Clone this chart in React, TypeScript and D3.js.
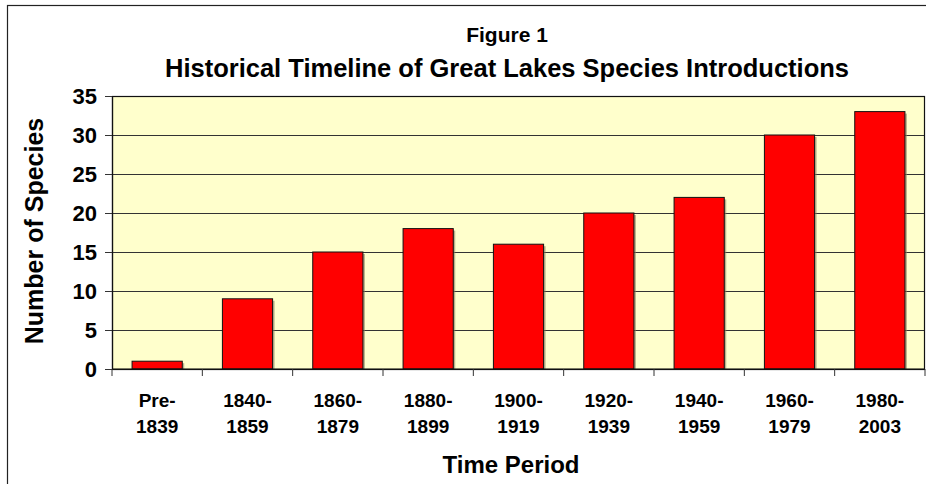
import { useEffect, useRef } from 'react'
import * as d3 from 'd3'

const periods = [
  ['Pre-', '1839'],
  ['1840-', '1859'],
  ['1860-', '1879'],
  ['1880-', '1899'],
  ['1900-', '1919'],
  ['1920-', '1939'],
  ['1940-', '1959'],
  ['1960-', '1979'],
  ['1980-', '2003'],
]
const speciesCounts = [1, 9, 15, 18, 16, 20, 22, 30, 33]
const yTicks = [0, 5, 10, 15, 20, 25, 30, 35]

const FONT = "Arial, 'Liberation Sans', sans-serif"

export default function App() {
  const ref = useRef<SVGSVGElement | null>(null)
  const width = 926
  const height = 484

  useEffect(() => {
    const el = ref.current
    if (!el) return
    const svg = d3.select(el)
    svg.selectAll('*').remove()

    const margin = { top: 96, right: 1, bottom: 115, left: 112 }
    const w = width - margin.left - margin.right
    const h = height - margin.top - margin.bottom

    // outer chart frame (only top + left visible in the crop)
    svg.append('rect')
      .attr('x', 7.5).attr('y', 5.5)
      .attr('width', 940).attr('height', 500)
      .attr('fill', '#fff').attr('stroke', '#222').attr('stroke-width', 1.2)

    const g = svg.append('g').attr('transform', `translate(${margin.left},${margin.top})`)

    const keys = periods.map((p) => p.join(''))
    const x = d3.scaleBand().domain(keys).range([0, w]).paddingInner(0.8 / 1.8).paddingOuter(0.4 / 1.8)
    const xb = d3.scaleBand().domain(keys).range([0, w])
    const y = d3.scaleLinear().domain([0, 35]).range([h, 0])

    g.append('rect').attr('width', w).attr('height', h).attr('fill', '#ffffcc')

    g.selectAll('line.grid')
      .data(yTicks.filter((t) => t > 0 && t < 35))
      .join('line')
      .attr('class', 'grid')
      .attr('x1', 0).attr('x2', w)
      .attr('y1', (d) => Math.round(y(d)) + 0.5).attr('y2', (d) => Math.round(y(d)) + 0.5)
      .attr('stroke', '#333').attr('stroke-width', 1)

    const data = keys.map((k, i) => ({ k, v: speciesCounts[i] }))

    // soft shadow
    g.selectAll('rect.shadow')
      .data(data)
      .join('rect')
      .attr('class', 'shadow')
      .attr('x', (d) => x(d.k)! + 2)
      .attr('y', (d) => y(d.v) + 2)
      .attr('width', x.bandwidth())
      .attr('height', (d) => h - y(d.v) - 2)
      .attr('fill', '#8a8060').attr('opacity', 0.6)

    g.selectAll('rect.bar')
      .data(data)
      .join('rect')
      .attr('class', 'bar')
      .attr('x', (d) => x(d.k)!)
      .attr('y', (d) => y(d.v))
      .attr('width', x.bandwidth())
      .attr('height', (d) => h - y(d.v))
      .attr('fill', '#ff0000').attr('stroke', '#111').attr('stroke-width', 1)

    g.append('rect').attr('x', 0.5).attr('y', 0.5).attr('width', w - 1).attr('height', h)
      .attr('fill', 'none').attr('stroke', '#111').attr('stroke-width', 1.2)

    // y axis
    const ya = g.append('g').call(d3.axisLeft(y).tickValues(yTicks).tickSize(7).tickPadding(8).tickFormat(d3.format('d')))
    ya.select('.domain').attr('stroke', '#111').attr('stroke-width', 1.2)
    ya.selectAll('.tick line').attr('stroke', '#333')
    ya.selectAll('text')
      .attr('font-family', FONT).attr('font-size', 22).attr('font-weight', 'bold').attr('fill', '#000')

    // x axis
    const xa = g.append('g').attr('transform', `translate(0,${h})`)
    xa.append('line').attr('x1', 0).attr('x2', w).attr('y1', 0).attr('y2', 0).attr('stroke', '#111').attr('stroke-width', 1.2)
    const bounds = keys.map((k) => xb(k)!).concat([w])
    xa.selectAll('line.tk').data(bounds).join('line').attr('class', 'tk')
      .attr('x1', (d) => d).attr('x2', (d) => d).attr('y1', 0).attr('y2', 7).attr('stroke', '#333')

    const labels = xa.selectAll('text.lbl').data(periods).join('text').attr('class', 'lbl')
      .attr('x', (_d, i) => xb(keys[i])! + xb.bandwidth() / 2)
      .attr('text-anchor', 'middle')
      .attr('font-family', FONT).attr('font-size', 19).attr('font-weight', 'bold').attr('fill', '#000')
    labels.append('tspan').attr('x', (_d, i) => xb(keys[i])! + xb.bandwidth() / 2).attr('y', 38).text((d) => d[0])
    labels.append('tspan').attr('x', (_d, i) => xb(keys[i])! + xb.bandwidth() / 2).attr('y', 64).text((d) => d[1])

    // titles
    svg.append('text').attr('x', 507).attr('y', 42).attr('text-anchor', 'middle')
      .attr('font-family', FONT).attr('font-size', 21).attr('font-weight', 'bold').text('Figure 1')
    svg.append('text').attr('x', 507).attr('y', 77).attr('text-anchor', 'middle')
      .attr('font-family', FONT).attr('font-size', 25.5).attr('font-weight', 'bold')
      .text('Historical Timeline of Great Lakes Species Introductions')
    svg.append('text').attr('x', 511).attr('y', 473).attr('text-anchor', 'middle')
      .attr('font-family', FONT).attr('font-size', 24).attr('font-weight', 'bold').text('Time Period')
    svg.append('text').attr('transform', 'translate(43,231) rotate(-90)').attr('text-anchor', 'middle')
      .attr('font-family', FONT).attr('font-size', 25).attr('font-weight', 'bold').text('Number of Species')
  }, [])

  return (
    <svg
      ref={ref}
      width={width}
      height={height}
      style={{ position: 'absolute', left: 0, top: 0, display: 'block' }}
    />
  )
}
